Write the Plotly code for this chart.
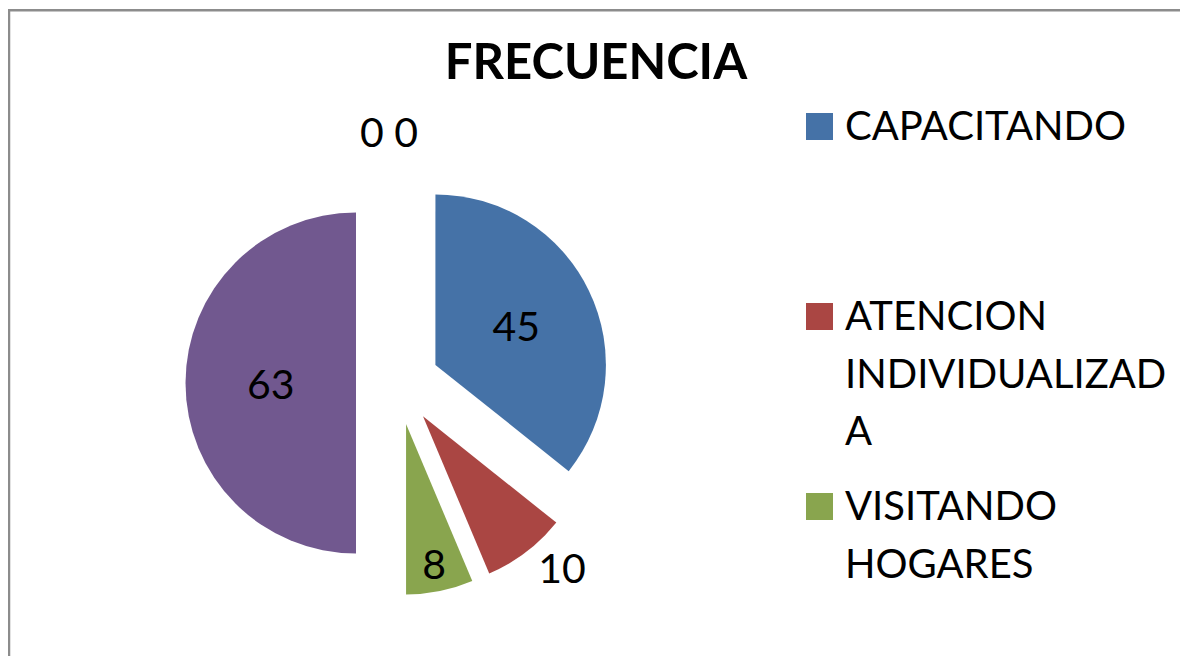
import plotly.graph_objects as go

# ---- data ----
categories = ["CAPACITANDO", "ATENCION INDIVIDUALIZADA", "VISITANDO HOGARES",
              "OTRAS ACTIVIDADES", "CATEGORIA 5", "CATEGORIA 6"]
legend_labels = ["CAPACITANDO", "ATENCION<br>INDIVIDUALIZAD<br>A", "VISITANDO<br>HOGARES"]
values = [45, 10, 8, 63, 0, 0]
colors = ["#4572A7", "#AA4643", "#89A54E", "#71588F", "#4198AF", "#DB843D"]
title_text = "FRECUENCIA"

OFF = 8  # page body margin
W, H = 1188 - OFF, 656 - OFF
FONT = "Lato"

def px_x(x):
    return (x - OFF) / W

def px_y(y):
    return 1 - (y - OFF) / H

textpos = ["inside", "outside", "inside", "inside", "none", "none"]

PULL = 0.245
R = 170.5
CX, CY = 356 + PULL * R, 383          # page coords of the pie centre
HALF = R * (1 + PULL)

fig = go.Figure()
fig.add_trace(go.Pie(
    labels=categories,
    values=values,
    marker=dict(colors=colors, line=dict(width=0)),
    sort=False,
    direction="clockwise",
    rotation=0,
    pull=PULL,
    textinfo="value",
    textposition=textpos,
    insidetextorientation="horizontal",
    textfont=dict(family=FONT, size=41, color="black"),
    outsidetextfont=dict(family=FONT, size=41, color="black"),
    insidetextfont=dict(family=FONT, size=41, color="black"),
    domain=dict(x=[px_x(CX - HALF), px_x(CX + HALF)],
                y=[px_y(CY + HALF), px_y(CY - HALF)]),
    automargin=False,
    showlegend=False,
    hoverinfo="label+value",
))

annotations = []
shapes = []

# zero-valued slices label (as in the original, "0 0" above the pie)
zero_text = " ".join(str(v) for v in values if v == 0)
annotations.append(dict(x=px_x(389), y=px_y(132), xref="paper", yref="paper",
                        text=zero_text, showarrow=False,
                        font=dict(family=FONT, size=41, color="black"),
                        xanchor="center", yanchor="middle"))

# manual legend (as laid out in the original)
legend_captops = [112, 302, 492]
LINE = 57.5
for lab, col, top in zip(legend_labels, colors, legend_captops):
    shapes.append(dict(type="rect", xref="paper", yref="paper",
                       x0=px_x(806), x1=px_x(833), y0=px_y(top + 28), y1=px_y(top + 1),
                       fillcolor=col, line=dict(width=0)))
    for k, line in enumerate(lab.split("<br>")):
        annotations.append(dict(x=px_x(843), y=px_y(top - 13 + k * LINE),
                                xref="paper", yref="paper",
                                text=line, showarrow=False, align="left",
                                font=dict(family=FONT, size=40, color="black"),
                                xanchor="left", yanchor="top"))

# chart border (left and top edges only are visible in the original)
bx, by = px_x(9), px_y(10.3)
shapes.append(dict(type="path", xref="paper", yref="paper",
                   path=f"M {bx},0 L {bx},{by} L 1,{by}",
                   line=dict(color="#8c8c8c", width=2.5)))

fig.update_layout(
    width=W, height=H,
    margin=dict(l=0, r=0, t=0, b=0, pad=0, autoexpand=False),
    paper_bgcolor="white",
    plot_bgcolor="white",
    title=dict(text=f"<b>{title_text}</b>", x=px_x(596), y=px_y(62),
               xanchor="center", yanchor="middle",
               font=dict(family=FONT, size=49, color="black")),
    annotations=annotations,
    shapes=shapes,
)

fig.write_html("out.html")
